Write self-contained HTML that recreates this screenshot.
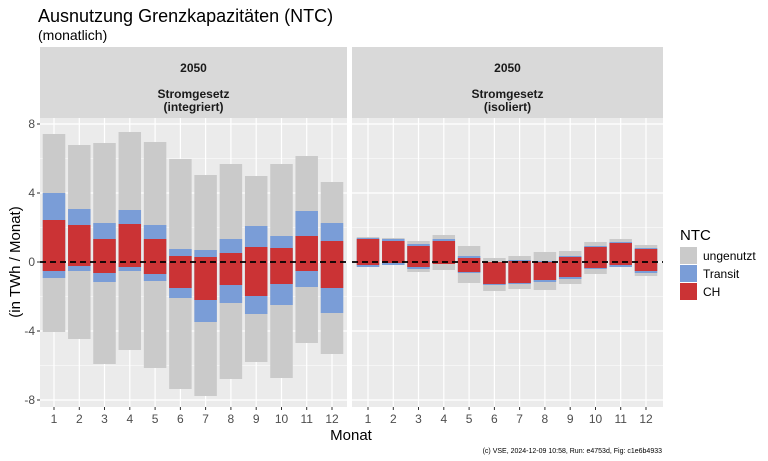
<!DOCTYPE html>
<html><head><meta charset="utf-8"><style>body{margin:0;background:#fff}svg{display:block;font-family:"Liberation Sans",sans-serif}</style></head><body>
<svg width="768" height="461" xmlns="http://www.w3.org/2000/svg">
<text x="38" y="22" font-size="18" fill="#000">Ausnutzung Grenzkapazitäten (NTC)</text>
<text x="38" y="40" font-size="14" fill="#000">(monatlich)</text>
<rect x="40" y="47" width="307" height="71" fill="#D9D9D9"/>
<rect x="352" y="47" width="311" height="71" fill="#D9D9D9"/>
<g font-size="12" font-weight="bold" text-anchor="middle" fill="#1a1a1a">
<text x="193.5" y="72">2050</text><text x="193.5" y="98">Stromgesetz</text><text x="193.5" y="111">(integriert)</text>
<text x="507.5" y="72">2050</text><text x="507.5" y="98">Stromgesetz</text><text x="507.5" y="111">(isoliert)</text>
</g>
<rect x="40" y="118" width="307" height="289" fill="#EBEBEB"/>
<rect x="352" y="118" width="311" height="289" fill="#EBEBEB"/>
<g stroke="#fff" stroke-width="0.6">
<path d="M40 158.5H347M40 227.5H347M40 296.5H347M40 365.5H347M352 158.5H663M352 227.5H663M352 296.5H663M352 365.5H663"/>
</g>
<g stroke="#fff" stroke-width="1.2">
<path d="M40 124H347M40 193H347M40 262H347M40 331H347M40 400H347M352 124H663M352 193H663M352 262H663M352 331H663M352 400H663"/>
<path d="M54 118V407M79.3 118V407M104.5 118V407M129.8 118V407M155.1 118V407M180.4 118V407M205.6 118V407M230.9 118V407M256.2 118V407M281.5 118V407M306.7 118V407M332 118V407"/>
<path d="M368 118V407M393.3 118V407M418.5 118V407M443.8 118V407M469.1 118V407M494.4 118V407M519.6 118V407M544.9 118V407M570.2 118V407M595.5 118V407M620.7 118V407M646 118V407"/>
</g>
<g fill="#CACACA">
<rect x="42.75" y="134" width="22.5" height="198"/><rect x="68.05" y="145" width="22.5" height="194"/><rect x="93.25" y="143" width="22.5" height="221"/><rect x="118.55" y="132" width="22.5" height="218"/><rect x="143.85" y="142" width="22.5" height="226"/><rect x="169.15" y="159" width="22.5" height="230"/><rect x="194.35" y="175" width="22.5" height="221"/><rect x="219.65" y="164" width="22.5" height="215"/><rect x="244.95" y="176" width="22.5" height="186"/><rect x="270.25" y="164" width="22.5" height="214"/><rect x="295.45" y="156" width="22.5" height="187"/><rect x="320.75" y="182" width="22.5" height="172"/>
<rect x="356.75" y="237" width="22.5" height="30"/><rect x="382.05" y="238" width="22.5" height="27"/><rect x="407.25" y="241" width="22.5" height="31"/><rect x="432.55" y="235" width="22.5" height="35"/><rect x="457.85" y="246" width="22.5" height="37"/><rect x="483.15" y="258" width="22.5" height="33"/><rect x="508.35" y="256" width="22.5" height="33"/><rect x="533.65" y="252" width="22.5" height="38"/><rect x="558.95" y="251" width="22.5" height="33"/><rect x="584.25" y="242" width="22.5" height="32"/><rect x="609.45" y="239" width="22.5" height="28"/><rect x="634.75" y="245" width="22.5" height="31"/>
</g>
<g fill="#7A9DD7">
<rect x="42.75" y="193" width="22.5" height="85"/><rect x="68.05" y="209" width="22.5" height="62"/><rect x="93.25" y="223" width="22.5" height="59"/><rect x="118.55" y="210" width="22.5" height="61"/><rect x="143.85" y="225" width="22.5" height="56"/><rect x="169.15" y="249" width="22.5" height="49"/><rect x="194.35" y="250" width="22.5" height="72"/><rect x="219.65" y="239" width="22.5" height="64"/><rect x="244.95" y="226" width="22.5" height="88"/><rect x="270.25" y="236" width="22.5" height="69"/><rect x="295.45" y="211" width="22.5" height="76"/><rect x="320.75" y="223" width="22.5" height="90"/>
<rect x="356.75" y="238" width="22.5" height="29"/><rect x="382.05" y="239" width="22.5" height="26"/><rect x="407.25" y="244" width="22.5" height="25"/><rect x="432.55" y="239" width="22.5" height="25"/><rect x="457.85" y="256" width="22.5" height="17"/><rect x="483.15" y="262" width="22.5" height="23"/><rect x="508.35" y="260" width="22.5" height="24"/><rect x="533.65" y="261" width="22.5" height="21"/><rect x="558.95" y="256" width="22.5" height="23"/><rect x="584.25" y="246" width="22.5" height="23"/><rect x="609.45" y="242" width="22.5" height="25"/><rect x="634.75" y="248" width="22.5" height="25"/>
</g>
<g fill="#CB3335">
<rect x="42.75" y="220" width="22.5" height="51"/><rect x="68.05" y="225" width="22.5" height="41"/><rect x="93.25" y="239" width="22.5" height="34"/><rect x="118.55" y="224" width="22.5" height="43"/><rect x="143.85" y="239" width="22.5" height="35"/><rect x="169.15" y="256" width="22.5" height="32"/><rect x="194.35" y="257" width="22.5" height="43"/><rect x="219.65" y="253" width="22.5" height="32"/><rect x="244.95" y="247" width="22.5" height="49"/><rect x="270.25" y="248" width="22.5" height="36"/><rect x="295.45" y="236" width="22.5" height="35"/><rect x="320.75" y="241" width="22.5" height="47"/>
<rect x="356.75" y="239" width="22.5" height="26"/><rect x="382.05" y="241" width="22.5" height="22"/><rect x="407.25" y="246" width="22.5" height="21"/><rect x="432.55" y="241" width="22.5" height="23"/><rect x="457.85" y="258" width="22.5" height="14"/><rect x="483.15" y="262" width="22.5" height="22"/><rect x="508.35" y="261" width="22.5" height="22"/><rect x="533.65" y="262" width="22.5" height="18"/><rect x="558.95" y="257" width="22.5" height="20"/><rect x="584.25" y="247" width="22.5" height="21"/><rect x="609.45" y="243" width="22.5" height="22"/><rect x="634.75" y="249" width="22.5" height="22"/>
</g>
<path d="M40 262H347M352 262H663" stroke="#000" stroke-width="1.8" stroke-dasharray="6,4"/>
<g stroke="#333" stroke-width="1"><path d="M37 124H40M37 193H40M37 262H40M37 331H40M37 400H40"/>
<path d="M54 407V410M79.3 407V410M104.5 407V410M129.8 407V410M155.1 407V410M180.4 407V410M205.6 407V410M230.9 407V410M256.2 407V410M281.5 407V410M306.7 407V410M332 407V410M368 407V410M393.3 407V410M418.5 407V410M443.8 407V410M469.1 407V410M494.4 407V410M519.6 407V410M544.9 407V410M570.2 407V410M595.5 407V410M620.7 407V410M646 407V410"/></g>
<g font-size="12" fill="#4d4d4d" text-anchor="end"><text x="35" y="128">8</text><text x="35" y="197">4</text><text x="35" y="266">0</text><text x="35" y="335">-4</text><text x="35" y="404">-8</text></g>
<g font-size="12" fill="#4d4d4d" text-anchor="middle">
<text x="54" y="423">1</text><text x="79.3" y="423">2</text><text x="104.5" y="423">3</text><text x="129.8" y="423">4</text><text x="155.1" y="423">5</text><text x="180.4" y="423">6</text><text x="205.6" y="423">7</text><text x="230.9" y="423">8</text><text x="256.2" y="423">9</text><text x="281.5" y="423">10</text><text x="306.7" y="423">11</text><text x="332" y="423">12</text>
<text x="368" y="423">1</text><text x="393.3" y="423">2</text><text x="418.5" y="423">3</text><text x="443.8" y="423">4</text><text x="469.1" y="423">5</text><text x="494.4" y="423">6</text><text x="519.6" y="423">7</text><text x="544.9" y="423">8</text><text x="570.2" y="423">9</text><text x="595.5" y="423">10</text><text x="620.7" y="423">11</text><text x="646" y="423">12</text></g>
<text x="351" y="440" font-size="15" text-anchor="middle">Monat</text>
<text transform="translate(20,262) rotate(-90)" font-size="15" text-anchor="middle">(in TWh / Monat)</text>
<text x="680" y="240" font-size="15">NTC</text>
<rect x="680" y="247" width="17" height="17" fill="#CACACA"/><rect x="680" y="265" width="17" height="17" fill="#7A9DD7"/><rect x="680" y="283" width="17" height="17" fill="#CB3335"/>
<g font-size="12"><text x="703" y="260">ungenutzt</text><text x="703" y="278">Transit</text><text x="703" y="296">CH</text></g>
<text x="662" y="453" font-size="7" text-anchor="end">(c) VSE, 2024-12-09 10:58, Run: e4753d, Fig: c1e6b4933</text>
</svg>
</body></html>
